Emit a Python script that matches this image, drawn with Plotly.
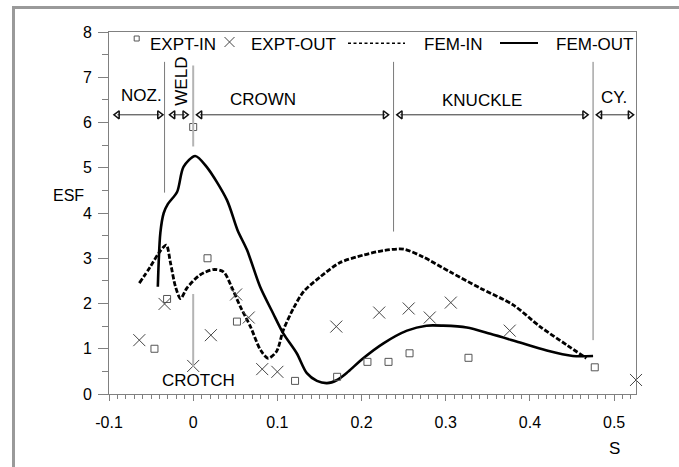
import plotly.graph_objects as go

# ---------------- data ----------------
exp_in_s = [-0.046, -0.031, 0.0, 0.017, 0.052, 0.121, 0.171, 0.207, 0.232, 0.257, 0.327, 0.477]
exp_in_esf = [1.0, 2.1, 5.9, 3.0, 1.6, 0.29, 0.38, 0.71, 0.71, 0.9, 0.8, 0.59]

exp_out_s = [-0.064, -0.034, 0.0, 0.021, 0.051, 0.066, 0.082, 0.100, 0.170, 0.221, 0.256, 0.281, 0.306, 0.376, 0.526]
exp_out_esf = [1.19, 1.99, 0.62, 1.30, 2.2, 1.69, 0.55, 0.49, 1.49, 1.8, 1.89, 1.69, 2.02, 1.40, 0.31]

fem_in_s = [-0.064, -0.051, -0.041, -0.032, -0.027, -0.021, -0.015, -0.0075, 0.008, 0.024, 0.036,
            0.046, 0.056, 0.068, 0.080, 0.089, 0.099, 0.107, 0.119, 0.131, 0.151, 0.174, 0.202,
            0.226, 0.250, 0.273, 0.305, 0.341, 0.380, 0.412, 0.444, 0.467]
fem_in_esf = [2.45, 2.81, 3.11, 3.29, 2.90, 2.37, 2.11, 2.34, 2.63, 2.75, 2.70,
              2.35, 1.93, 1.49, 0.97, 0.79, 0.94, 1.41, 1.89, 2.26, 2.59, 2.90, 3.07,
              3.17, 3.20, 3.03, 2.70, 2.34, 1.97, 1.49, 1.08, 0.79]

fem_out_s = [-0.042, -0.039, -0.035, -0.030, -0.019, -0.0115, 0.0024, 0.016, 0.040, 0.0527, 0.064,
             0.0795, 0.095, 0.107, 0.123, 0.135, 0.147, 0.159, 0.171, 0.182, 0.202, 0.226, 0.254,
             0.277, 0.297, 0.325, 0.353, 0.384, 0.420, 0.451, 0.475]
fem_out_esf = [2.37, 3.56, 4.00, 4.20, 4.47, 5.02, 5.26, 5.02, 4.29, 3.62, 3.18,
               2.37, 1.78, 1.34, 0.90, 0.46, 0.29, 0.24, 0.31, 0.46, 0.79, 1.12, 1.40,
               1.51, 1.51, 1.47, 1.33, 1.16, 0.96, 0.84, 0.84]

# region annotations
sec_names = ["NOZ.", "WELD", "CROWN", "KNUCKLE", "CY."]
sec_start = [-0.090, -0.024, 0.008, 0.246, 0.483]
sec_end = [-0.040, -0.010, 0.228, 0.465, 0.519]
sec_label_x = [-0.061, -0.0135, 0.0825, 0.343, 0.500]
sec_label_y = [6.59, 6.92, 6.50, 6.48, 6.55]
sec_arrow_y = 6.17

div_x = [-0.034, 0.238, 0.475]
div_y0 = [4.45, 3.59, 1.19]
div_y1 = [7.34, 7.34, 7.34]
weld_div_x = 0.0
weld_div_y = [5.47, 7.26]
crotch_x = 0.0
crotch_y = [0.6, 2.21]
crotch_label = "CROTCH"
crotch_label_pos = [0.0063, 0.29]

x_ticks = [-0.1, 0, 0.1, 0.2, 0.3, 0.4, 0.5]
x_ticktext = ["-0.1", "0", "0.1", "0.2", "0.3", "0.4", "0.5"]
y_ticks = [0, 1, 2, 3, 4, 5, 6, 7, 8]

# ---------------- layout geometry ----------------
W, H = 679, 467
ML, MR, MT, MB = 109, 43, 32, 73
PW, PH = W - ML - MR, H - MT - MB


def px(x):
    return (x - ML) / PW


def py(y):
    return (H - MB - y) / PH


FONT = "Liberation Sans, Arial, sans-serif"
FS = 17
TFS = 16

fig = go.Figure()

# arrows of the regions
for a, b in zip(sec_start, sec_end):
    fig.add_trace(go.Scatter(
        x=[a, b], y=[sec_arrow_y, sec_arrow_y], mode="lines+markers",
        line=dict(color="#333333", width=1),
        marker=dict(symbol=["triangle-left-open", "triangle-right-open"], size=7,
                    color="#111111", line=dict(width=1.5, color="#111111")),
        showlegend=False, hoverinfo="skip"))

fig.add_trace(go.Scatter(x=fem_in_s, y=fem_in_esf, mode="lines", name="FEM-IN",
                         line=dict(color="black", width=2.8, dash="5px,2px", shape="spline", smoothing=0.8),
                         showlegend=False))
fig.add_trace(go.Scatter(x=fem_out_s, y=fem_out_esf, mode="lines", name="FEM-OUT",
                         line=dict(color="black", width=2.6, shape="spline", smoothing=0.8),
                         showlegend=False))
fig.add_trace(go.Scatter(x=exp_in_s, y=exp_in_esf, mode="markers", name="EXPT-IN",
                         marker=dict(symbol="square-open", size=7, color="#555555", line=dict(width=1)),
                         showlegend=False, cliponaxis=False))
fig.add_trace(go.Scatter(x=exp_out_s, y=exp_out_esf, mode="markers", name="EXPT-OUT",
                         marker=dict(symbol="x-thin-open", size=12, color="#444444", line=dict(width=1, color="#444444")),
                         showlegend=False, cliponaxis=False))

shapes = []
for xv, y0, y1 in zip(div_x, div_y0, div_y1):
    shapes.append(dict(type="line", xref="x", yref="y", x0=xv, x1=xv, y0=y0, y1=y1,
                       line=dict(color="#7a7a7a", width=1)))
shapes.append(dict(type="line", xref="x", yref="y", x0=weld_div_x, x1=weld_div_x,
                   y0=weld_div_y[0], y1=weld_div_y[1], line=dict(color="#b4b4b4", width=2)))
shapes.append(dict(type="line", xref="x", yref="y", x0=crotch_x, x1=crotch_x,
                   y0=crotch_y[0], y1=crotch_y[1], line=dict(color="#b4b4b4", width=2)))

# outer gray frame (right and bottom edges fall outside the canvas)
shapes.append(dict(type="rect", xref="paper", yref="paper", x0=px(13.5), x1=px(W + 20),
                   y0=py(7.5), y1=py(H + 20), line=dict(color="#9a9a9a", width=3), layer="below"))

# legend keys
shapes.append(dict(type="rect", xref="paper", yref="paper", x0=px(134.2), x1=px(139.2), y0=py(36), y1=py(41),
                   line=dict(color="#555555", width=1)))
shapes.append(dict(type="line", xref="paper", yref="paper", x0=px(224.5), x1=px(234.5), y0=py(37), y1=py(47),
                   line=dict(color="#444444", width=1)))
shapes.append(dict(type="line", xref="paper", yref="paper", x0=px(224.5), x1=px(234.5), y0=py(47), y1=py(37),
                   line=dict(color="#444444", width=1)))
shapes.append(dict(type="line", xref="paper", yref="paper", x0=px(348), x1=px(405), y0=py(43.3), y1=py(43.3),
                   line=dict(color="black", width=1.6, dash="3px,2.5px")))
shapes.append(dict(type="line", xref="paper", yref="paper", x0=px(500), x1=px(538), y0=py(43), y1=py(43),
                   line=dict(color="black", width=2)))

annotations = []
for name, lx, ly in zip(sec_names, sec_label_x, sec_label_y):
    annotations.append(dict(x=lx, y=ly, xref="x", yref="y", text=name, showarrow=False,
                            textangle=-90 if name == "WELD" else 0,
                            font=dict(family=FONT, size=FS, color="black")))
annotations.append(dict(x=crotch_label_pos[0], y=crotch_label_pos[1], xref="x", yref="y", text=crotch_label,
                        showarrow=False, font=dict(family=FONT, size=FS, color="black")))
for txt, x0 in [("EXPT-IN", 148), ("EXPT-OUT", 248.5), ("FEM-IN", 421.5), ("FEM-OUT", 553.5)]:
    annotations.append(dict(x=px(x0), y=py(44.5), xref="paper", yref="paper", text=txt, showarrow=False,
                            xanchor="left", yanchor="middle", font=dict(family=FONT, size=FS, color="black")))
annotations.append(dict(x=px(68), y=py(196), xref="paper", yref="paper", text="ESF", showarrow=False,
                        xanchor="center", yanchor="middle",
                        font=dict(family=FONT, size=16, color="black")))
annotations.append(dict(x=px(614), y=py(448), xref="paper", yref="paper", text="S", showarrow=False,
                        xanchor="center", yanchor="middle",
                        font=dict(family=FONT, size=FS, color="black")))

fig.update_layout(
    width=W, height=H, autosize=False,
    margin=dict(l=ML, r=MR, t=MT, b=MB, pad=0),
    paper_bgcolor="white", plot_bgcolor="white",
    shapes=shapes, annotations=annotations,
    font=dict(family=FONT, size=TFS, color="black"),
    xaxis=dict(range=[-0.1, 0.526], tickvals=x_ticks, ticktext=x_ticktext, showgrid=False, zeroline=False,
               showline=True, linecolor="#808080", linewidth=1, mirror=True,
               ticks="outside", ticklen=6, tickcolor="#808080", ticklabelstandoff=8,
               minor=dict(dtick=0.01, ticks="outside", ticklen=4, tickcolor="#808080", showgrid=False),
               tickfont=dict(family=FONT, size=TFS, color="black")),
    yaxis=dict(range=[0, 8], tickvals=y_ticks, showgrid=False, zeroline=False,
               showline=True, linecolor="#808080", linewidth=1, mirror=True,
               ticks="outside", ticklen=10, tickcolor="#808080", ticklabelstandoff=3,
               minor=dict(dtick=0.5, ticks="outside", ticklen=6, tickcolor="#808080", showgrid=False),
               tickfont=dict(family=FONT, size=TFS, color="black")),
)

fig.write_html("out.html", config={"displayModeBar": False},
               post_script="document.body.style.margin='0px';")
